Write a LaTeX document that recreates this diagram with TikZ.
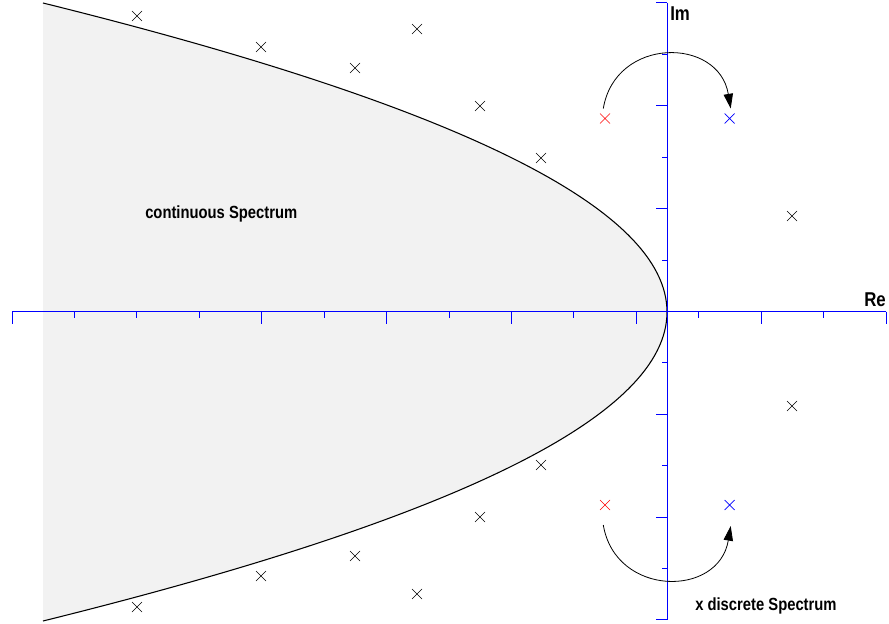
\documentclass[tikz,border=0pt]{standalone}
\usepackage{fontspec}
\newfontfamily\plotfont[FakeStretch=0.84]{Liberation Sans}
\usetikzlibrary{arrows.meta,shapes.misc,calc}
\definecolor{specgray}{RGB}{242,242,242}
\definecolor{axisblue}{RGB}{0,0,255}

\tikzset{
  ev/.style={cross out,draw=black,line width=0.5pt,minimum size=7pt,inner sep=0pt},
  evred/.style={ev,draw=red},
  evblue/.style={ev,draw=blue},
  flow/.style={-{Triangle[length=11pt,width=7pt]},line width=0.6pt},
  lbl/.style={font=\plotfont\bfseries\fontsize{13.2}{15}\selectfont,inner sep=0pt,anchor=base west},
  axlbl/.style={lbl,font=\plotfont\bfseries\fontsize{15}{17}\selectfont},
  axis/.style={axisblue,line width=0.75pt},
}

\begin{document}
\begin{tikzpicture}[x=0.75pt,y=-0.75pt]
    \useasboundingbox (0,0) rectangle (889,624);
    % continuous spectrum
    \fill[specgray] (43,3) .. controls (875,209) and (875,415) .. (43,621) -- cycle;
    \draw[line width=0.8pt] (43,3) .. controls (875,209) and (875,415) .. (43,621);
    % axes and ticks
    \draw[axis] (12,311.7) -- (886,311.7);
    \draw[axis] (667,3) -- (667,620);
    \foreach \k in {0,4,6,8,10,12,14} \draw[axis] ({12+62.43*\k},311.7) -- ++(0,12);
    \foreach \k in {1,2,3,5,7,9,11,13} \draw[axis] ({12+62.43*\k},311.7) -- ++(0,6);
    \foreach \k in {0,2,4,8,10,12} \draw[axis] (667,{3+51.4*\k}) -- ++(-11,0);
    \foreach \k in {1,3,5,7,9,11} \draw[axis] (667,{3+51.4*\k}) -- ++(-5.5,0);
    \node[axlbl] (re) at (864,306) {Re};
    \node[axlbl] (im) at (670,21) {Im};
    % eigenvalues
    \node[ev] (e1) at (137,16) {};
    \node[ev] (e2) at (261,47) {};
    \node[ev] (e3) at (417,29) {};
    \node[ev] (e4) at (355,68) {};
    \node[ev] (e5) at (480,106) {};
    \node[ev] (e6) at (541,158) {};
    \node[ev] (e7) at (792,216) {};
    \node[ev] (e8) at (792,406) {};
    \node[ev] (e9) at (541,465) {};
    \node[ev] (e10) at (480,517) {};
    \node[ev] (e11) at (355,556) {};
    \node[ev] (e12) at (261,576) {};
    \node[ev] (e13) at (137,607) {};
    \node[ev] (e14) at (417,594) {};
    \node[evred] (r1) at (605,118.5) {};
    \node[evred] (r2) at (605,505) {};
    \node[evblue] (b1) at (729.7,118.5) {};
    \node[evblue] (b2) at (729.7,505) {};
    \draw[flow] ($(r1)+(-1.7,-10)$) .. controls +(12,-72) and +(-12,-72) .. ($(b1)+(1,-10)$);
    \draw[flow] ($(r2)+(-1.7,20)$) .. controls +(12,72) and +(-12,72) .. ($(b2)+(1,21)$);
    \node[lbl] (cont) at (145,219) {continuous Spectrum};
    \node[lbl] (disc) at (695,610) {x discrete Spectrum};
\end{tikzpicture}
\end{document}
